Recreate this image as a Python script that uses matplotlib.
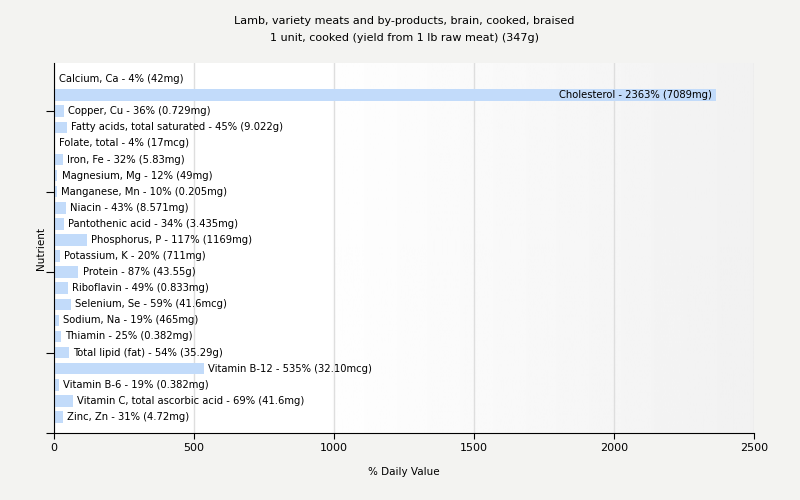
import matplotlib
matplotlib.use("Agg")
import matplotlib.pyplot as plt
import numpy as np

nutrients = [
    "Calcium, Ca", "Cholesterol", "Copper, Cu", "Fatty acids, total saturated",
    "Folate, total", "Iron, Fe", "Magnesium, Mg", "Manganese, Mn", "Niacin",
    "Pantothenic acid", "Phosphorus, P", "Potassium, K", "Protein", "Riboflavin",
    "Selenium, Se", "Sodium, Na", "Thiamin", "Total lipid (fat)", "Vitamin B-12",
    "Vitamin B-6", "Vitamin C, total ascorbic acid", "Zinc, Zn",
]
daily_pct = [4, 2363, 36, 45, 4, 32, 12, 10, 43, 34, 117, 20, 87, 49, 59, 19,
             25, 54, 535, 19, 69, 31]
amounts = ["42mg", "7089mg", "0.729mg", "9.022g", "17mcg", "5.83mg", "49mg",
           "0.205mg", "8.571mg", "3.435mg", "1169mg", "711mg", "43.55g",
           "0.833mg", "41.6mcg", "465mg", "0.382mg", "35.29g", "32.10mcg",
           "0.382mg", "41.6mg", "4.72mg"]
x_ticks = [0, 500, 1000, 1500, 2000, 2500]

bg = "#f3f3f1"
bar_color = "#c2dbfa"
plt.rcParams["font.family"] = "DejaVu Sans"

fig = plt.figure(figsize=(8, 5), dpi=100, facecolor=bg)
ax = fig.add_axes([0.0675, 0.134, 0.875, 0.74])

# horizontal white-to-grey gradient behind the bars
grad = np.concatenate([np.ones(90), np.linspace(1.0, 0.945, 166)]).reshape(1, -1)
ax.imshow(grad, cmap="gray", vmin=0, vmax=1, aspect="auto",
          extent=[0, 2500, 22, -1], zorder=0)

y = np.arange(len(nutrients))
ax.barh(y, daily_pct, height=0.72, color=bar_color, zorder=2)

for i, (name, pct, amt) in enumerate(zip(nutrients, daily_pct, amounts)):
    label = f"{name} - {pct}% ({amt})"
    if pct > 2000:
        ax.annotate(label, (pct, i), xytext=(-3, 0), textcoords="offset points",
                    ha="right", va="center", fontsize=7.2, zorder=3)
    else:
        ax.annotate(label, (pct, i), xytext=(3, 0), textcoords="offset points",
                    ha="left", va="center", fontsize=7.2, zorder=3)

ax.set_xlim(0, 2500)
ax.set_ylim(22, -1)
ax.set_xticks(x_ticks)
ax.set_xticklabels([str(t) for t in x_ticks], fontsize=8)
ax.set_yticks([2, 7, 12, 17, 22])
ax.set_yticklabels([])
ax.tick_params(axis="y", length=6, direction="out")
ax.tick_params(axis="x", length=4)
ax.grid(axis="x", color="#dedede", linewidth=1)
ax.set_axisbelow(True)
for s in ["top", "right"]:
    ax.spines[s].set_visible(False)

ax.set_xlabel("% Daily Value", fontsize=7.5, labelpad=10)
ax.set_ylabel("Nutrient", fontsize=7.5, labelpad=-4)
ax.set_title("Lamb, variety meats and by-products, brain, cooked, braised\n"
             "1 unit, cooked (yield from 1 lb raw meat) (347g)",
             fontsize=8, pad=16, linespacing=1.8)

fig.savefig("out.png", dpi=100, facecolor=bg)
